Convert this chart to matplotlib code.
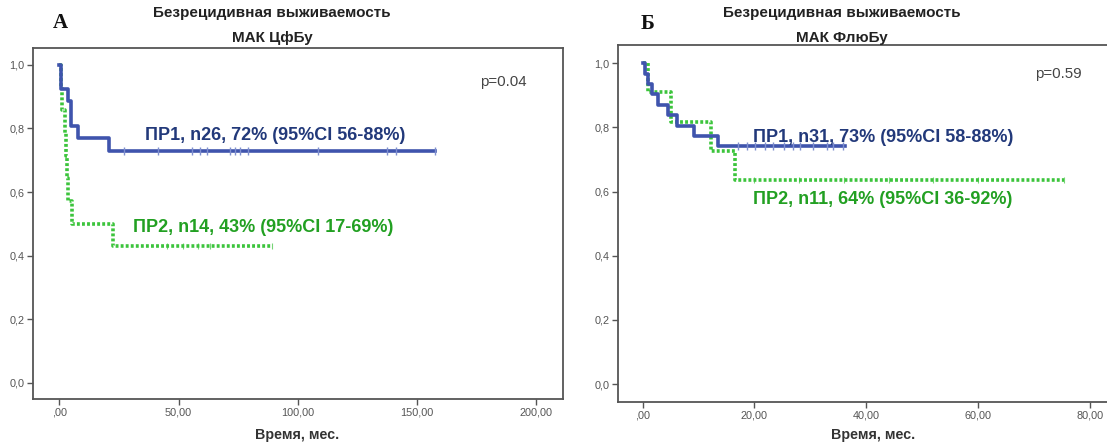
import numpy as np
from matplotlib import pyplot as plt

plt.rcParams['font.family'] = ['Liberation Sans', 'DejaVu Sans']

# panel A: MAK CyBu
a_pr1_t = [0, 0.7, 3.8, 4.9, 8.0, 20.8, 157.6]
a_pr1_s = [1.0, 0.923, 0.885, 0.808, 0.769, 0.730, 0.730]
a_pr1_cens = [27.3, 41.5, 55.5, 59.0, 61.8, 71.6, 73.7, 75.8, 79.3, 108.6, 137.3, 141.2, 157.6]
a_pr2_t = [0, 0.8, 1.2, 2.2, 2.6, 3.0, 3.6, 5.2, 22.7, 89.1]
a_pr2_s = [1.0, 0.929, 0.857, 0.786, 0.714, 0.643, 0.571, 0.5, 0.429, 0.429]
a_pr2_cens = [45.0, 52.0, 58.0, 63.0, 89.1]
a_xticks = [0, 50, 100, 150, 200]
a_xlabels = [',00', '50,00', '100,00', '150,00', '200,00']

# panel B: MAK FluBu
b_pr1_t = [0, 0.5, 1.0, 1.6, 2.8, 4.6, 6.1, 9.1, 13.5, 36.2]
b_pr1_s = [1.0, 0.968, 0.935, 0.903, 0.871, 0.839, 0.806, 0.774, 0.742, 0.742]
b_pr1_cens = [17.1, 18.6, 20.1, 21.9, 23.4, 25.2, 26.9, 28.1, 30.5, 32.9, 34.1, 35.9]
b_pr2_t = [0, 1.0, 5.0, 12.3, 16.5, 75.4]
b_pr2_s = [1.0, 0.909, 0.818, 0.727, 0.636, 0.636]
b_pr2_cens = [20.0, 28.0, 36.0, 44.0, 52.0, 60.0, 75.4]
b_xticks = [0, 20, 40, 60, 80]
b_xlabels = [',00', '20,00', '40,00', '60,00', '80,00']

yticks = [0, 0.2, 0.4, 0.6, 0.8, 1.0]
ylabels = ['0,0', '0,2', '0,4', '0,6', '0,8', '1,0']

blue = '#3f54ad'
blue_txt = '#22397a'
green = '#3cc43c'
green_txt = '#22a022'
W, H = 1107, 445

fig = plt.figure(figsize=(W / 100, H / 100), dpi=100)


def step_at(t, s, x):
    i = np.searchsorted(t, x, side='right') - 1
    return np.asarray(s)[i]


def panel(box, xlim, ylim, xt, xl, c1, c2):
    l, b, r, t = box
    ax = fig.add_axes([l / W, 1 - b / H, (r - l) / W, (b - t) / H])
    t1, s1, k1 = c1
    t2, s2, k2 = c2
    ax.plot(t2, s2, drawstyle='steps-post', color=green, lw=2.6,
            linestyle=(0, (0.8, 0.6)))
    ax.plot(k2, step_at(t2, s2, k2), linestyle='none', marker='|',
            color=green, ms=4, mew=0.8, alpha=0.7)
    ax.plot(t1, s1, drawstyle='steps-post', color=blue, lw=2.6)
    ax.plot(k1, step_at(t1, s1, k1), linestyle='none', marker='|',
            color='#7f8fcf', ms=6, mew=1)
    ax.set_xlim(*xlim)
    ax.set_ylim(*ylim)
    ax.set_xticks(xt)
    ax.set_xticklabels(xl)
    ax.set_yticks(yticks)
    ax.set_yticklabels(ylabels)
    ax.tick_params(labelsize=7.8, colors='#555555', length=4, width=1,
                   pad=2)
    for sp in ax.spines.values():
        sp.set_color('#555555')
        sp.set_linewidth(1.3)
    return ax


panel((32.7, 399.3, 562.7, 47.7), (-11.2, 211.2), (-0.052, 1.054),
      a_xticks, a_xlabels,
      (a_pr1_t, a_pr1_s, a_pr1_cens), (a_pr2_t, a_pr2_s, a_pr2_cens))
panel((617.7, 401.7, 1115, 45), (-4.47, 84.5), (-0.055, 1.057),
      b_xticks, b_xlabels,
      (b_pr1_t, b_pr1_s, b_pr1_cens), (b_pr2_t, b_pr2_s, b_pr2_cens))


def txt(x, y, s, **kw):
    fig.text(x / W, 1 - y / H, s, ha=kw.pop('ha', 'center'), va='center', **kw)


txt(272, 13, 'Безрецидивная выживаемость', fontsize=11, weight='bold', color='#222222')
txt(272, 38, 'МАК ЦфБу', fontsize=11, weight='bold', color='#222222')
txt(842, 13, 'Безрецидивная выживаемость', fontsize=11, weight='bold', color='#222222')
txt(842, 38, 'МАК ФлюБу', fontsize=11, weight='bold', color='#222222')
txt(60, 23, 'А', fontsize=15, weight='bold', family='Liberation Serif', color='#111111')
txt(648, 24, 'Б', fontsize=15, weight='bold', family='Liberation Serif', color='#111111')
txt(297, 435, 'Время, мес.', fontsize=10.3, weight='bold', color='#333333')
txt(873, 435, 'Время, мес.', fontsize=10.3, weight='bold', color='#333333')
txt(480, 82, 'p=0.04', fontsize=10.8, color='#444444', ha='left')
txt(1035, 74, 'p=0.59', fontsize=10.8, color='#444444', ha='left')

txt(145, 136, 'ПР1, n26, 72% (95%CI 56-88%)', fontsize=13, weight='bold', color=blue_txt, ha='left')
txt(133, 228, 'ПР2, n14, 43% (95%CI 17-69%)', fontsize=13, weight='bold', color=green_txt, ha='left')
txt(753, 137, 'ПР1, n31, 73% (95%CI 58-88%)', fontsize=13, weight='bold', color=blue_txt, ha='left')
txt(753, 200, 'ПР2, n11, 64% (95%CI 36-92%)', fontsize=13, weight='bold', color=green_txt, ha='left')

fig.savefig('out.png', dpi=100)
